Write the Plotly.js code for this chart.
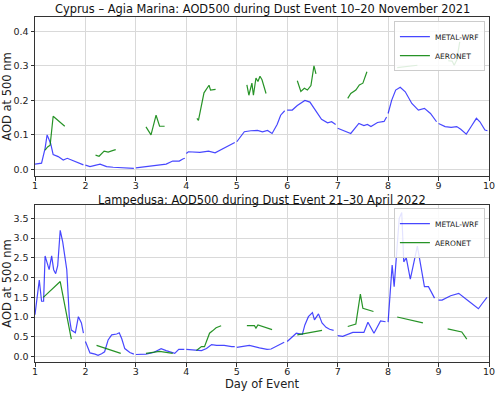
<!DOCTYPE html>
<html>
<head>
<meta charset="utf-8">
<script src="https://cdn.plot.ly/plotly-3.0.1.min.js"></script>
<style>html,body{margin:0;padding:0;background:#fff;}#chart{width:500px;height:393px;}</style>
</head>
<body>
<div id="chart"></div>
<script>
// ---- Cyprus – Agia Marina (10–20 Nov 2021) ----
const cyWrfX = [1.0,1.08,1.13,1.2,1.24,1.31,1.36,1.46,1.56,1.64,1.76,1.88,1.96,null,
  2.0,2.09,2.29,2.42,2.55,2.68,2.85,2.96,null,
  3.0,3.2,3.4,3.6,3.73,3.86,3.93,3.97,null,
  4.0,4.04,4.27,4.44,4.57,4.7,4.83,4.92,4.96,null,
  5.0,5.08,5.15,5.28,5.41,5.51,5.61,5.7,5.8,5.87,5.95,null,
  6.0,6.1,6.2,6.35,6.45,6.56,6.68,6.8,6.88,6.96,null,
  7.0,7.1,7.26,7.42,7.52,7.59,7.66,7.79,7.92,7.97,null,
  8.0,8.07,8.15,8.24,8.34,8.47,8.6,8.72,8.84,8.96,null,
  9.0,9.13,9.25,9.36,9.44,9.55,9.65,9.75,9.82,9.92,9.97];
const cyWrfY = [0.015,0.017,0.018,0.061,0.1,0.075,0.043,0.037,0.027,0.032,0.025,0.018,0.013,null,
  0.012,0.008,0.015,0.008,0.006,0.005,0.004,0.003,null,
  0.004,0.007,0.01,0.015,0.024,0.024,0.03,0.032,null,
  0.046,0.051,0.049,0.053,0.048,0.058,0.07,0.075,0.078,null,
  0.08,0.095,0.109,0.112,0.113,0.109,0.113,0.104,0.13,0.157,0.17,null,
  0.172,0.172,0.185,0.2,0.195,0.17,0.145,0.135,0.138,0.13,null,
  0.119,0.113,0.104,0.133,0.127,0.13,0.124,0.136,0.139,0.152,null,
  0.162,0.2,0.23,0.238,0.225,0.191,0.172,0.177,0.162,0.138,null,
  0.133,0.124,0.122,0.124,0.116,0.102,0.125,0.148,0.138,0.114,0.112];
const cyAerX = [1.2,1.25,1.3,1.36,1.59,null,
  2.2,2.27,2.37,2.45,2.55,2.6,null,
  3.2,3.3,3.4,3.47,3.57,null,
  4.21,4.24,4.35,4.45,4.48,4.58,null,
  5.2,5.24,5.3,5.33,5.38,5.42,5.46,5.5,5.58,null,
  6.2,6.27,6.34,6.4,6.47,6.53,6.57,null,
  7.2,7.26,7.36,7.43,7.5,7.58,null,
  8.18,8.58,null,
  9.19,9.27,9.31,9.36,9.42];
const cyAerY = [0.056,0.065,0.07,0.154,0.125,null,
  0.041,0.038,0.053,0.05,0.055,0.057,null,
  0.123,0.1,0.157,0.125,0.125,null,
  0.148,0.142,0.222,0.244,0.23,0.232,null,
  0.245,0.215,0.25,0.215,0.265,0.255,0.27,0.26,0.22,null,
  0.257,0.226,0.235,0.23,0.243,0.3,0.277,null,
  0.206,0.22,0.23,0.245,0.25,0.283,null,
  0.295,0.302,null,
  0.315,0.314,0.302,0.317,0.37];

// ---- Lampedusa (21–30 Apr 2022) ----
const laWrfX = [1.0,1.085,1.13,1.17,1.2,1.25,1.28,1.33,1.37,1.41,1.45,1.5,1.55,1.63,1.68,1.72,1.8,1.86,1.92,1.96,null,
  2.0,2.09,2.19,2.25,2.32,2.38,2.45,2.52,2.62,2.67,2.72,2.78,2.88,2.96,null,
  3.0,3.2,3.35,3.5,3.6,3.7,3.77,3.85,3.96,null,
  4.0,4.1,4.2,4.3,4.4,4.5,4.6,4.75,4.9,4.96,null,
  5.0,5.25,5.45,5.6,5.68,5.8,5.94,null,
  6.0,6.18,6.3,6.35,6.42,6.5,6.54,6.62,6.69,6.77,6.84,6.92,null,
  7.0,7.1,7.3,7.52,7.6,7.72,7.85,7.95,null,
  8.0,8.08,8.12,8.22,8.27,8.31,8.36,8.44,8.58,8.66,8.72,8.8,8.92,null,
  9.0,9.07,9.24,9.4,9.6,9.79,9.87,9.96];
const laWrfY = [1.06,1.94,1.4,1.4,2.55,2.3,2.2,2.55,2.2,2.1,2.3,3.2,2.9,2.2,1.0,0.67,0.6,1.01,0.85,0.59,null,
  0.38,0.09,0.06,0.03,0.07,0.12,0.42,0.55,0.57,0.6,0.45,0.2,0.1,0.06,null,
  0.05,0.06,0.1,0.2,0.15,0.1,0.08,0.18,0.18,null,
  0.18,0.17,0.15,0.15,0.2,0.3,0.28,0.28,0.25,0.25,null,
  0.23,0.28,0.22,0.18,0.19,0.27,0.36,null,
  0.38,0.59,0.56,0.8,1.01,1.11,0.93,1.08,0.85,0.74,0.69,0.66,null,
  0.53,0.51,0.61,0.61,0.87,0.59,0.9,0.88,null,
  0.87,2.32,1.77,3.5,3.65,2.4,2.5,1.96,2.8,2.25,1.77,1.77,1.48,null,
  1.43,1.43,1.54,1.6,1.4,1.21,1.35,1.5];
const laAerX = [1.165,1.5,1.72,null,
  2.22,2.7,null,
  3.2,3.47,3.73,null,
  4.2,4.3,4.36,4.46,4.52,4.59,4.69,null,
  5.2,5.35,5.38,5.42,5.7,null,
  6.2,6.69,null,
  7.2,7.36,7.45,7.5,7.71,null,
  8.18,8.69,null,
  9.18,9.46,9.56];
const laAerY = [1.5,1.9,0.44,null,
  0.28,0.08,null,
  0.08,0.13,0.08,null,
  0.15,0.25,0.25,0.59,0.65,0.73,0.78,null,
  0.78,0.78,0.72,0.8,0.68,null,
  0.55,0.66,null,
  0.76,0.82,1.58,1.22,1.14,null,
  1.0,0.85,null,
  0.7,0.62,0.44];

const titles = ["Cyprus – Agia Marina: AOD500 during Dust Event 10–20 November 2021",
                "Lampedusa: AOD500 during Dust Event 21–30 April 2022"];
const dayTicks = [1,2,3,4,5,6,7,8,9,10];

const blue = "rgba(0,0,255,0.72)";
const green = "rgba(0,128,0,0.85)";
const FONT = "DejaVu Sans, sans-serif";

const traces = [
  {x: cyWrfX, y: cyWrfY, name: "METAL-WRF", mode: "lines", line: {color: blue, width: 1.2}, xaxis: "x", yaxis: "y", legend: "legend", connectgaps: false},
  {x: cyAerX, y: cyAerY, name: "AERONET", mode: "lines", line: {color: green, width: 1.2}, xaxis: "x", yaxis: "y", legend: "legend", connectgaps: false},
  {x: laWrfX, y: laWrfY, name: "METAL-WRF", mode: "lines", line: {color: blue, width: 1.2}, xaxis: "x2", yaxis: "y2", legend: "legend2", connectgaps: false},
  {x: laAerX, y: laAerY, name: "AERONET", mode: "lines", line: {color: green, width: 1.2}, xaxis: "x2", yaxis: "y2", legend: "legend2", connectgaps: false}
];

const axBase = {
  showline: true, mirror: true, linecolor: "#333", linewidth: 1,
  showgrid: true, gridcolor: "#d9d9d9", gridwidth: 1,
  ticks: "outside", ticklen: 3.5, tickcolor: "#333",
  tickfont: {size: 9.5, color: "#222", family: FONT},
  zeroline: false
};

const legBase = {
  bgcolor: "rgba(255,255,255,0.85)", bordercolor: "#cccccc", borderwidth: 1,
  font: {size: 7.5, color: "#222", family: FONT}, xanchor: "right", yanchor: "top",
  itemwidth: 30, tracegroupgap: 0
};

const layout = {
  width: 500, height: 393,
  margin: {l: 35, r: 11, t: 17, b: 31},
  paper_bgcolor: "#fff", plot_bgcolor: "#fff",
  font: {family: FONT, color: "#222"},
  showlegend: true,
  xaxis: Object.assign({}, axBase, {domain: [0, 1], anchor: "y", range: [1, 10], tickvals: dayTicks, ticklabelstandoff: -3}),
  yaxis: Object.assign({}, axBase, {domain: [0.539, 1], anchor: "x", range: [-0.0195, 0.442],
    tickvals: [0, 0.1, 0.2, 0.3, 0.4], tickformat: ".1f",
    title: {text: "AOD at 500 nm", font: {size: 11.5, family: FONT, color: "#222"}, standoff: 3}}),
  xaxis2: Object.assign({}, axBase, {domain: [0, 1], anchor: "y2", range: [1, 10], tickvals: dayTicks, ticklabelstandoff: -3,
    title: {text: "Day of Event", font: {size: 11.5, family: FONT, color: "#222"}, standoff: 4}}),
  yaxis2: Object.assign({}, axBase, {domain: [0, 0.455], anchor: "x2", range: [-0.14, 3.84],
    tickvals: [0, 0.5, 1, 1.5, 2, 2.5, 3, 3.5], tickformat: ".1f",
    title: {text: "AOD at 500 nm", font: {size: 11.5, family: FONT, color: "#222"}, standoff: 3}}),
  legend: Object.assign({}, legBase, {x: 0.991, y: 0.988}),
  legend2: Object.assign({}, legBase, {x: 0.991, y: 0.446}),
  annotations: [
    {text: titles[0], xref: "paper", yref: "paper", x: 0.5, y: 1.0, yshift: -1, xanchor: "center", yanchor: "bottom",
     showarrow: false, font: {size: 11.4, family: FONT, color: "#111"}},
    {text: titles[1], xref: "paper", yref: "paper", x: 0.5, y: 0.455, yshift: -4, xanchor: "center", yanchor: "bottom",
     showarrow: false, font: {size: 11.4, family: FONT, color: "#111"}}
  ]
};

Plotly.newPlot("chart", traces, layout, {displayModeBar: false, staticPlot: true});
</script>
</body>
</html>
